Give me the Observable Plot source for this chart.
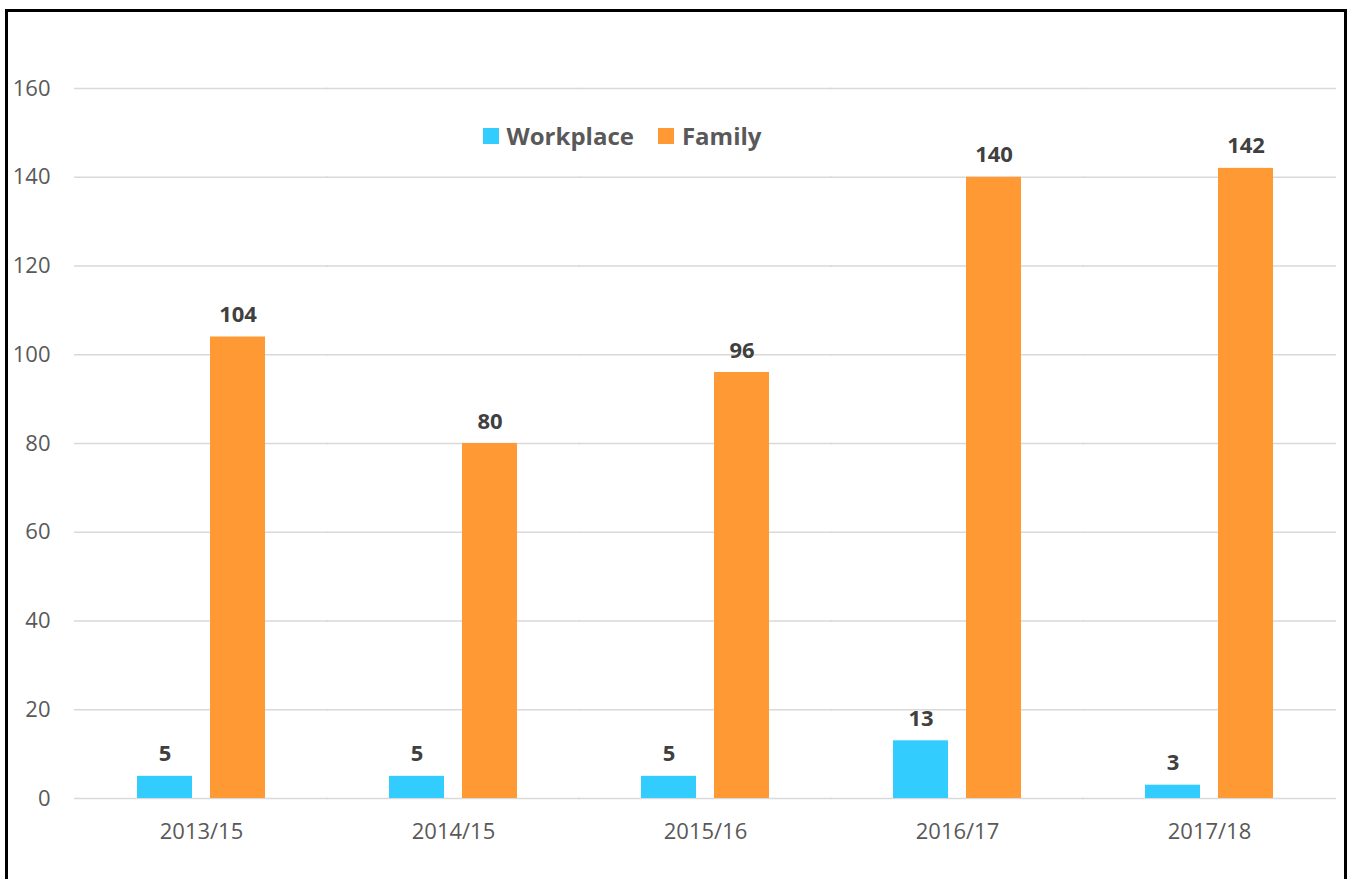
<!DOCTYPE html>
<html>
<head>
<meta charset="utf-8">
<script src="https://cdn.jsdelivr.net/npm/d3@7"></script>
<script src="https://cdn.jsdelivr.net/npm/@observablehq/plot@0.6"></script>
<style>
  html, body { margin: 0; padding: 0; background: #fff; }
  body { width: 1357px; height: 879px; position: relative; overflow: hidden; font-family: "Open Sans", sans-serif; }
  #chart { position: absolute; left: 0; top: 0; }
  #frame { position: absolute; left: 5px; top: 9px; width: 1336px; height: 900px; border: 3px solid #000; border-bottom: none; pointer-events: none; }
  #legend { position: absolute; top: 119px; left: 0; width: 1244px; display: flex; justify-content: center; gap: 24px; font-weight: bold; font-size: 24px; color: #595959; }
  #legend span.item { display: flex; align-items: center; gap: 8px; }
  #legend span.sw { width: 16px; height: 16px; display: inline-block; }
</style>
</head>
<body>
<div id="chart"></div>
<div id="legend"></div>
<div id="frame"></div>
<script>
const years = ["2013/15", "2014/15", "2015/16", "2016/17", "2017/18"];
const series = ["Workplace", "Family"];
const workplace = [5, 5, 5, 13, 3];
const family = [104, 80, 96, 140, 142];
const colors = ["#33CCFF", "#FF9933"];
const yTicks = [0, 20, 40, 60, 80, 100, 120, 140, 160];

const rows = [];
years.forEach((yr, i) => {
  rows.push({year: yr, series: "Workplace", value: workplace[i]});
  rows.push({year: yr, series: "Family", value: family[i]});
});

const chart = Plot.plot({
  width: 1357,
  height: 879,
  marginLeft: 73,
  marginRight: 20,
  marginTop: 88,
  marginBottom: 81,
  style: {fontFamily: "Open Sans, sans-serif", background: "#fff"},
  fx: {domain: years, paddingInner: 0.493, paddingOuter: 0.2465, label: null, tickSize: 0, tickPadding: 25, fontSize: 22},
  x: {domain: series, paddingInner: 0.25, paddingOuter: 0, axis: null},
  y: {domain: [0, 160], ticks: yTicks, label: null, tickSize: 0, tickPadding: 87, fontSize: 22},
  color: {domain: series, range: colors},
  marks: [
    Plot.ruleY(yTicks, {stroke: "#d9d9d9", strokeWidth: 1.5, insetLeft: -63, insetRight: -63}),
    Plot.barY(rows, {fx: "year", x: "series", y: "value", fill: "series"}),
    Plot.text(rows, {fx: "year", x: "series", y: "value", text: d => String(d.value), dy: -22, fontWeight: "bold", fontSize: 22, fill: "#404040"})
  ]
});
chart.querySelectorAll("g[aria-label$='tick label']").forEach(g => { g.setAttribute("fill", "#595959"); g.setAttribute("font-size", "22"); });
document.getElementById("chart").appendChild(chart);

const legend = document.getElementById("legend");
series.forEach((s, i) => {
  const item = document.createElement("span");
  item.className = "item";
  const sw = document.createElement("span");
  sw.className = "sw";
  sw.style.background = colors[i];
  item.appendChild(sw);
  item.appendChild(document.createTextNode(s));
  legend.appendChild(item);
});
</script>
</body>
</html>
